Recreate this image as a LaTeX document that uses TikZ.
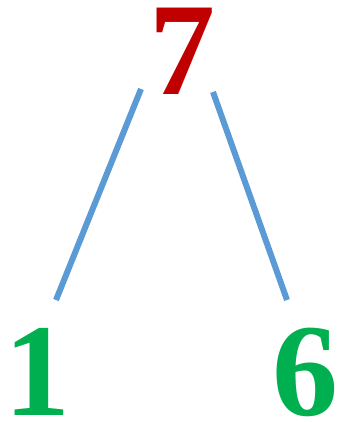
\documentclass[tikz,border=0pt]{standalone}
\usepackage{fontspec}
\setmainfont{Liberation Serif}
\definecolor{numred}{HTML}{C00000}
\definecolor{numgreen}{HTML}{00B050}
\definecolor{linkblue}{HTML}{5B9BD5}
\begin{document}
\begin{tikzpicture}[x=1pt,y=1pt,
  digit/.style={inner sep=0pt,anchor=base,text height=90pt,text depth=0pt,font=\fontsize{132}{132}\selectfont\bfseries},
  link/.style={draw=linkblue,line width=6pt}]
\useasboundingbox (0,0) rectangle (338,-422);
\node[digit,text=numred] (top) at (182,-95) {7};
\node[digit,text=numgreen] (left) at (38,-415) {1};
\node[digit,text=numgreen] (right) at (305,-415) {6};
\coordinate (a1) at (141,-89);
\coordinate (a2) at (56,-300);
\coordinate (b1) at (213,-92);
\coordinate (b2) at (287,-300);
\draw[link] (a1) -- (a2);
\draw[link] (b1) -- (b2);
\end{tikzpicture}
\end{document}
